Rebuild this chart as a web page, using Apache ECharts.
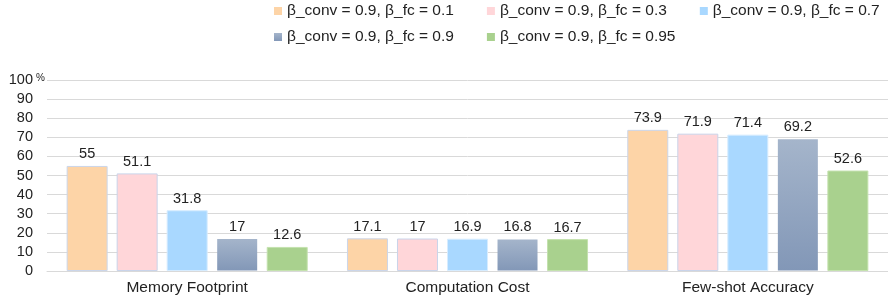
<!DOCTYPE html>
<html>
<head>
<meta charset="utf-8">
<script src="https://cdn.jsdelivr.net/npm/echarts@6/dist/echarts.min.js"></script>
<style>
  html, body { margin: 0; padding: 0; background: #fff; }
  #chart { width: 888px; height: 297px; }
</style>
</head>
<body>
<div id="chart"></div>
<script>
const categories = ['Memory Footprint', 'Computation Cost', 'Few-shot Accuracy'];
const seriesNames = [
    'β_conv = 0.9, β_fc = 0.1',
    'β_conv = 0.9, β_fc = 0.3',
    'β_conv = 0.9, β_fc = 0.7',
    'β_conv = 0.9, β_fc = 0.9',
    'β_conv = 0.9, β_fc = 0.95'
];
const fc01 = [55, 17.1, 73.9];
const fc03 = [51.1, 17, 71.9];
const fc07 = [31.8, 16.9, 71.4];
const fc09 = [17, 16.8, 69.2];
const fc095 = [12.6, 16.7, 52.6];
const yTicks = [0, 10, 20, 30, 40, 50, 60, 70, 80, 90, 100];

const font = 'Liberation Sans, Arial, sans-serif';
const chart = echarts.init(document.getElementById('chart'));

const colors = [
    '#FDD4A7',
    '#FFD6D9',
    '#A9D8FF',
    new echarts.graphic.LinearGradient(0, 0, 0, 1, [
        {offset: 0, color: '#A5B5CB'},
        {offset: 1, color: '#8297B7'}
    ]),
    '#A9D18E'
];
const borders = ['#CBD6EA', '#C9D4EA', '#D6ECFF', 'rgba(0,0,0,0)', '#C4E2AE'];

function makeSeries(i, data) {
    return {
        name: seriesNames[i],
        type: 'bar',
        data: data,
        barWidth: 41,
        barGap: '22%',
        itemStyle: {color: colors[i], borderColor: borders[i], borderWidth: 1},
        label: {
            show: true,
            position: 'top',
            distance: 4,
            fontSize: 14.5,
            fontFamily: font,
            color: '#222'
        }
    };
}

// two legend rows, same left edge so the columns line up
function makeLegend(top, names) {
    return {
        left: 274,
        top: top,
        padding: 0,
        itemWidth: 8,
        itemHeight: 8,
        itemGap: 33,
        icon: 'rect',
        textStyle: {fontSize: 15.5, color: '#222', fontFamily: font},
        data: names.map(n => ({name: n, itemStyle: {borderWidth: 0}}))
    };
}

const option = {
    animation: false,
    textStyle: {fontFamily: font},
    legend: [
        makeLegend(3, seriesNames.slice(0, 3)),
        makeLegend(29, seriesNames.slice(3))
    ],
    grid: {left: 47, right: 0, top: 80, bottom: 26, containLabel: false},
    xAxis: {
        type: 'category',
        data: categories,
        axisTick: {show: false},
        axisLine: {lineStyle: {color: '#D9D9D9'}},
        axisLabel: {fontSize: 15.5, color: '#222', margin: 9, fontFamily: font}
    },
    yAxis: {
        type: 'value',
        min: yTicks[0],
        max: yTicks[yTicks.length - 1],
        interval: 10,
        axisLine: {show: false},
        axisTick: {show: false},
        splitLine: {lineStyle: {color: '#D9D9D9'}},
        axisLabel: {fontSize: 14.5, color: '#222', margin: 14, fontFamily: font}
    },
    graphic: [{
        type: 'text',
        left: 36,
        top: 73,
        style: {text: '%', fontSize: 10, fill: '#222', fontFamily: font}
    }],
    series: [
        makeSeries(0, fc01),
        makeSeries(1, fc03),
        makeSeries(2, fc07),
        makeSeries(3, fc09),
        makeSeries(4, fc095)
    ]
};

chart.setOption(option);
window.addEventListener('resize', function () {
    chart.resize();
});
</script>
</body>
</html>
